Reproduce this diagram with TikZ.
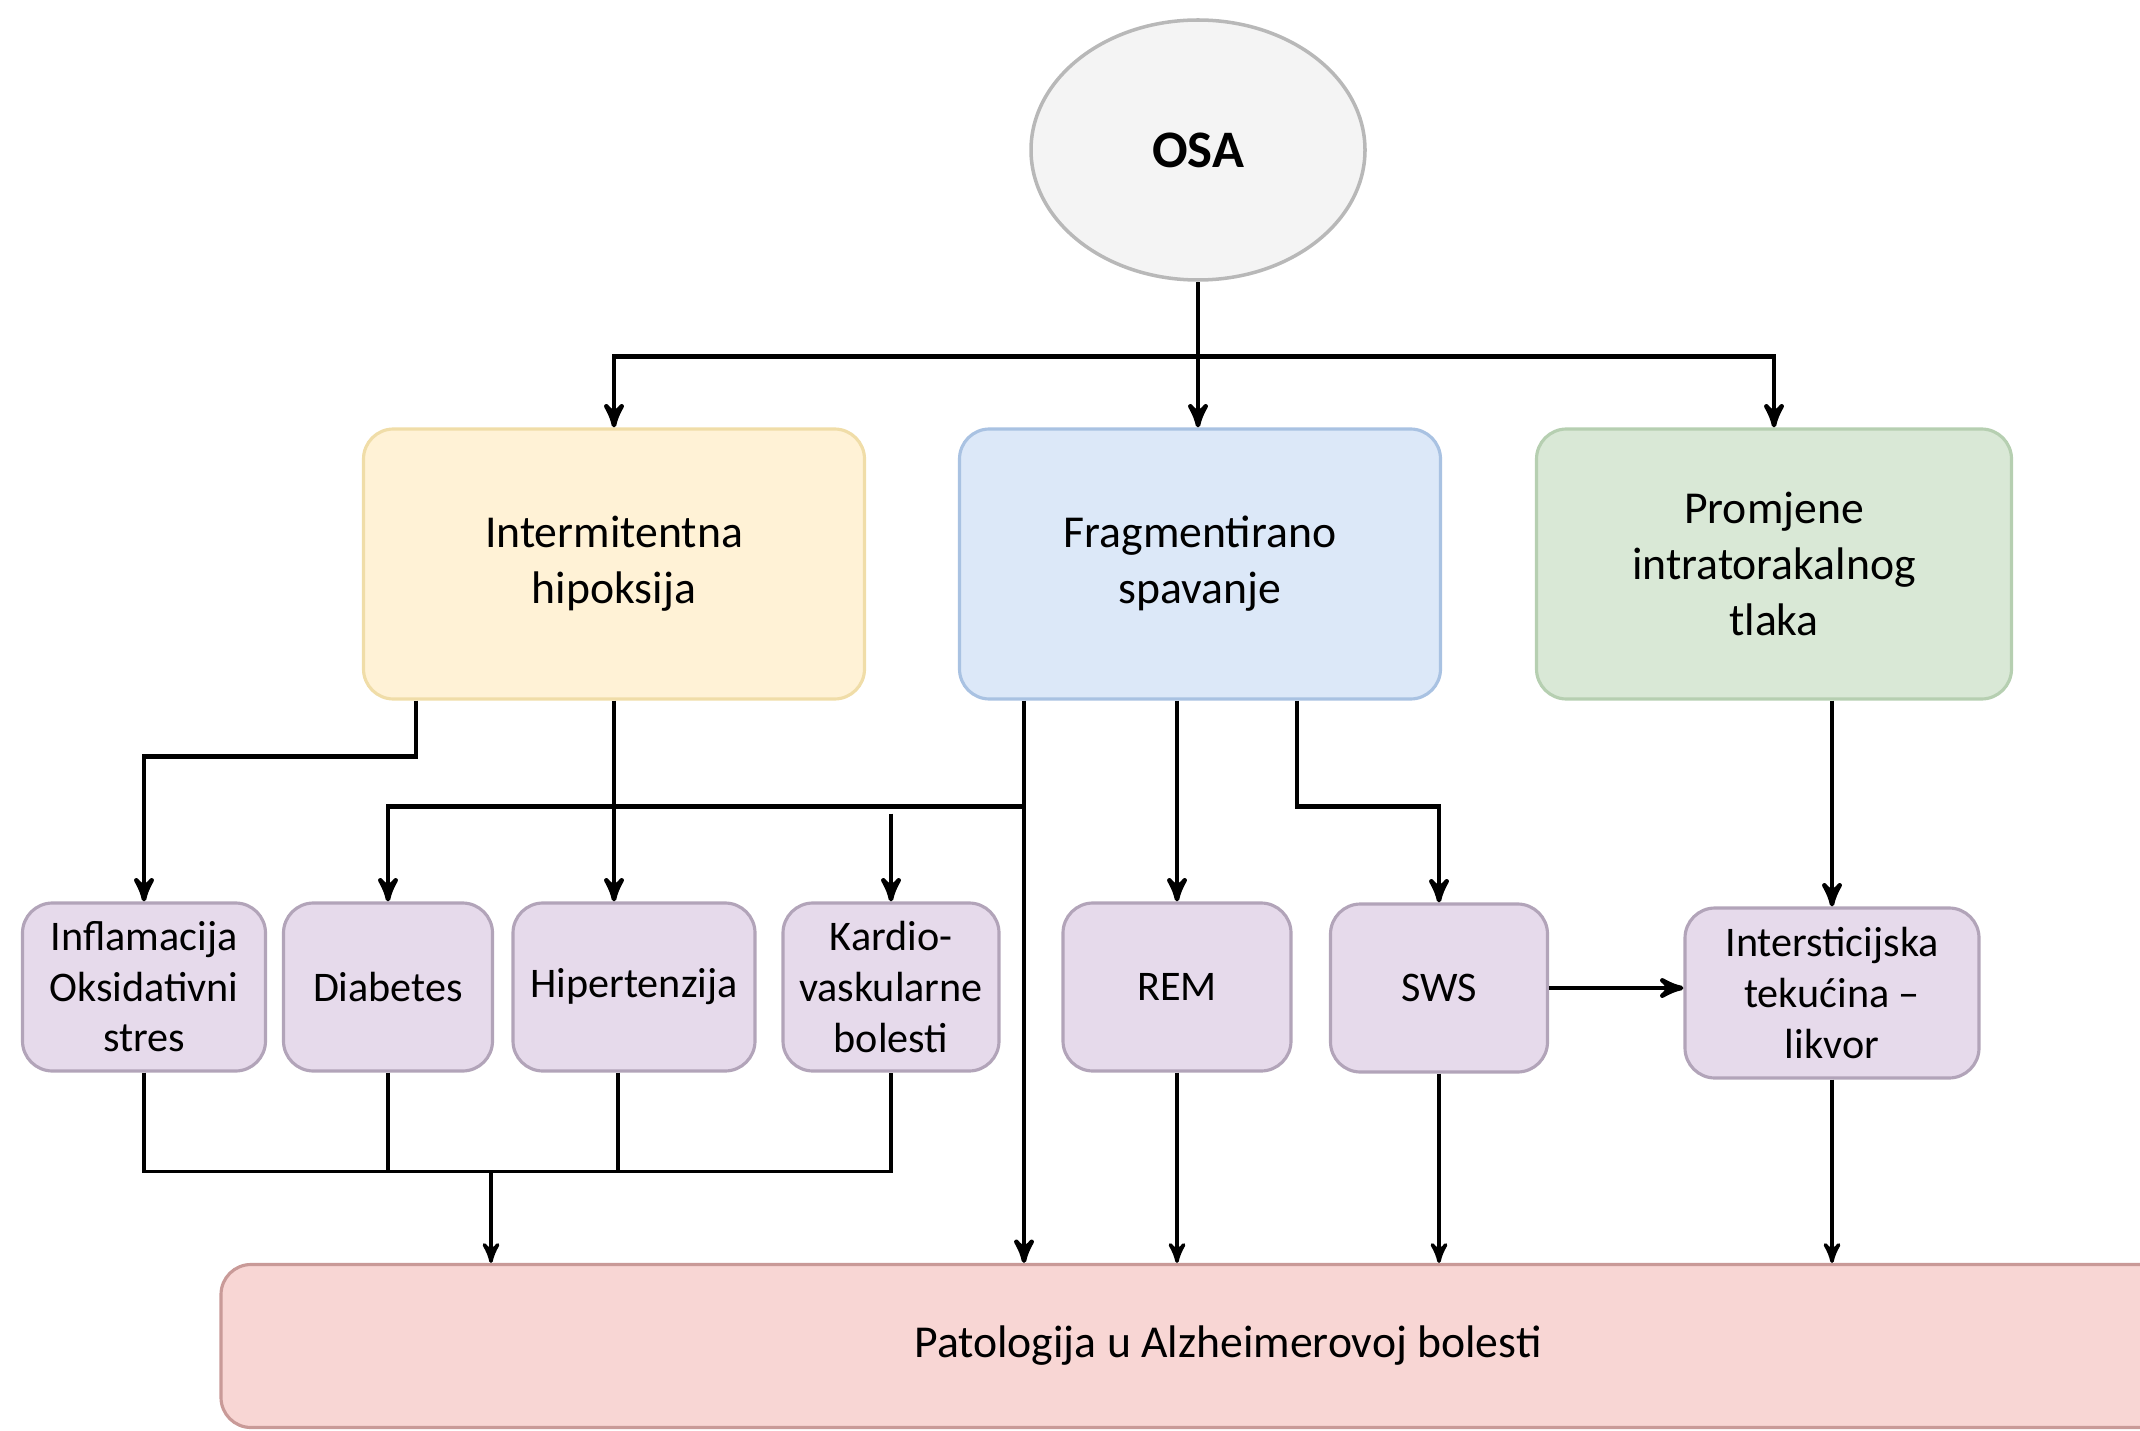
\documentclass[tikz,border=0pt]{standalone}
\usepackage{xcolor}
\usepackage{fontspec}
\setmainfont{Carlito}
\usepackage{tikz}
\usetikzlibrary{arrows,shapes.geometric,positioning}

\definecolor{osafill}{HTML}{F4F4F4}
\definecolor{osaline}{HTML}{B8B8B8}
\definecolor{hypfill}{HTML}{FFF2D6}
\definecolor{hypline}{HTML}{F0DDA8}
\definecolor{fragfill}{HTML}{DCE8F8}
\definecolor{fragline}{HTML}{A9C2E2}
\definecolor{tlakfill}{HTML}{D9E8D6}
\definecolor{tlakline}{HTML}{B6CFB1}
\definecolor{subfill}{HTML}{E6DAEB}
\definecolor{subline}{HTML}{B2A4B9}
\definecolor{patfill}{HTML}{F8D6D4}
\definecolor{patline}{HTML}{C99A98}

\begin{document}
\begin{tikzpicture}[x=0.1mm,y=-0.1mm,->,>=stealth',line width=1.3pt,
    osa node/.style={ellipse,draw=osaline,fill=osafill,line width=1pt,minimum width=3.34cm,minimum height=2.6cm,font=\fontsize{15}{18}\selectfont\bfseries},
    base box/.style={rectangle,rounded corners=3mm,draw,line width=0.9pt,align=center,inner sep=2pt},
    top box/.style={base box,minimum height=2.7cm,font=\fontsize{13}{16}\selectfont},
    sub box/.style={base box,fill=subfill,draw=subline,minimum height=1.68cm,font=\fontsize{12}{14.4}\selectfont},
    low arrow/.style={line width=1pt}]
    \useasboundingbox (0,0) rectangle (2140,1431);
    \clip (0,0) rectangle (2140,1431);

    % cause and its three consequences
    \node[osa node] (osa) at (1198,150) {OSA};
    \node[top box,fill=hypfill,draw=hypline,minimum width=5.01cm] (hyp) at (614,564) {Intermitentna\\hipoksija};
    \node[top box,fill=fragfill,draw=fragline,minimum width=4.81cm] (frag) at (1200,564) {Fragmentirano\\spavanje};
    \node[top box,fill=tlakfill,draw=tlakline,minimum width=4.75cm] (tlak) at (1774,564) {Promjene\\intratorakalnog\\tlaka};

    % second row
    \node[sub box,minimum width=2.43cm] (inf) at (144,987) {Inflamacija\\Oksidativni\\stres};
    \node[sub box,minimum width=2.09cm] (dia) at (388,987) {Diabetes};
    \node[sub box,minimum width=2.42cm] (hip) at (634,987) {Hipertenzija};
    \node[sub box,minimum width=2.16cm] (kar) at (891,987) {Kardio-\\vaskularne\\bolesti};
    \node[sub box,minimum width=2.28cm] (rem) at (1177,987) {REM};
    \node[sub box,minimum width=2.17cm] (sws) at (1439,988) {SWS};
    \node[sub box,minimum width=2.94cm,minimum height=1.7cm] (int) at (1832,993) {Intersticijska\\tekućina --\\likvor};

    % result
    \node[base box,fill=patfill,draw=patline,minimum width=20.14cm,minimum height=1.63cm,font=\fontsize{13}{16}\selectfont] (pat) at (1228,1346) {Patologija u Alzheimerovoj bolesti};

    % from OSA
    \coordinate (split) at ([yshift=-0.75cm]osa.south);
    \draw[-] (osa.south) -- (split);
    \draw (split) -| (hyp.north);
    \draw (split) -- (split |- frag.north);
    \draw (split) -| (tlak.north);

    % from hypoxia
    \draw ([xshift=-1.98cm]hyp.south) -- ++(0,56) -| (inf.north);
    \draw (hyp.south) -- (hyp.south |- hip.north);

    % from fragmented sleep
    \coordinate (fragL) at ([xshift=-1.76cm]frag.south);
    \coordinate (branch) at ([yshift=-1.06cm]fragL);
    \draw (fragL) -- (fragL |- pat.north);
    \draw (branch) -| (dia.north);
    \draw ([yshift=-0.07cm]kar.north |- branch) -- (kar.north);
    \draw (rem.north |- frag.south) -- (rem.north);
    \draw ([xshift=0.97cm]frag.south) -- ++(0,106) -| (sws.north);

    % from intrathoracic pressure
    \draw (int.north |- tlak.south) -- (int.north);
    \draw (sws.east) -- (sws.east -| int.west);

    % into the pathology
    \coordinate (join) at ([yshift=-0.99cm]inf.south);
    \draw[-,low arrow] (inf.south) -- (join) -| (kar.south);
    \draw[-,low arrow] (dia.south) -- (dia.south |- join);
    \draw[-,low arrow] ([xshift=-0.16cm]hip.south) -- ([xshift=-0.16cm]hip.south |- join);
    \coordinate (merge) at (491,1170);
    \draw[low arrow] (merge) -- (merge |- pat.north);
    \draw[low arrow] (rem.south) -- (rem.south |- pat.north);
    \draw[low arrow] (sws.south) -- (sws.south |- pat.north);
    \draw[low arrow] (int.south) -- (int.south |- pat.north);
  \end{tikzpicture}
\end{document}
